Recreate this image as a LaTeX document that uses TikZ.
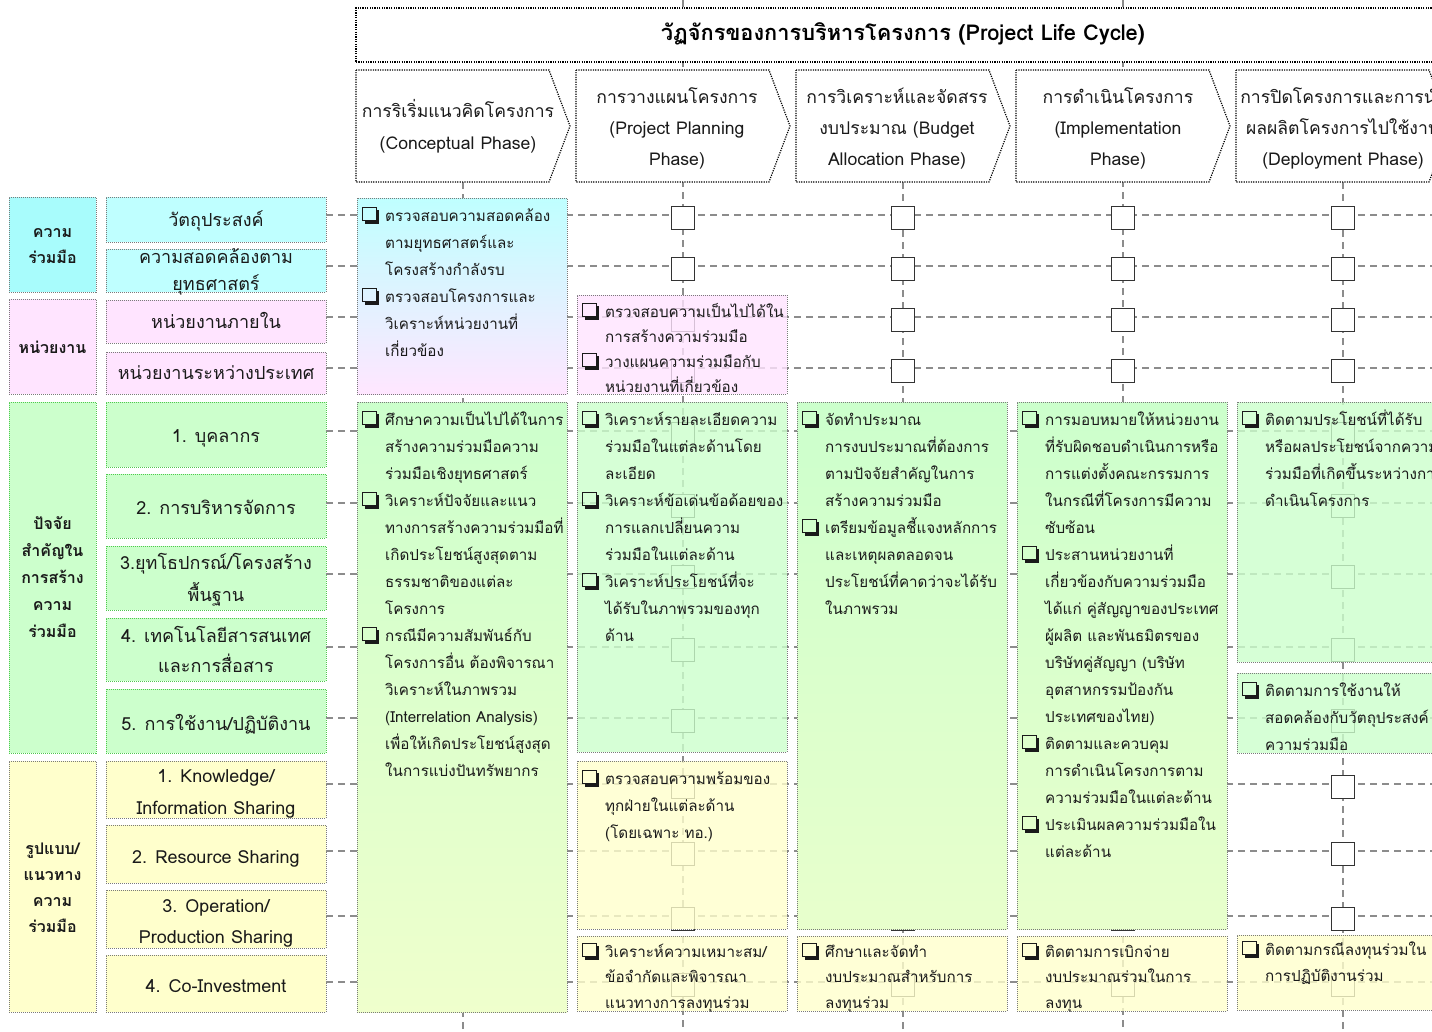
\documentclass[tikz,border=0pt]{standalone}
\usepackage{fontspec}
\setmainfont[Script=Thai]{Loma}
\usetikzlibrary{calc}

\definecolor{cyanA}{HTML}{BFFFFF}
\definecolor{cyanG}{HTML}{A8FCFC}
\definecolor{pinkA}{HTML}{FFE4FF}
\definecolor{pinkB}{HTML}{FFE6FF}
\definecolor{greenA}{HTML}{CCFFCC}
\definecolor{greenB}{HTML}{E8FFCC}
\definecolor{yellowA}{HTML}{FFFFCC}
\definecolor{gridgray}{HTML}{8C8C8C}
\definecolor{boxedge}{HTML}{7A7A7A}
\definecolor{greenedge}{HTML}{4FC84F}
\definecolor{inkc}{HTML}{1A1A1A}

% shadowed check-box bullet built from rules, then the hanging indent
\newcommand\cb{\makebox[23pt][l]{\setlength{\unitlength}{1pt}%
  \begin{picture}(18,14)(0,0)
    \put(2.8,-2.8){\rule{14pt}{2.8pt}}
    \put(14,-2.8){\rule{2.8pt}{14pt}}
    \put(0,0){\rule{14.5pt}{1.1pt}}
    \put(0,13.4){\rule{14.5pt}{1.1pt}}
    \put(0,0){\rule{1.1pt}{14.5pt}}
    \put(13.4,0){\rule{1.1pt}{14.5pt}}
  \end{picture}}}
\newcommand\ind{\hspace*{23pt}}
% list text: #1 = line spacing, #2 = lines
\newcommand\listtext[2]{\parbox[t]{330pt}{\fontsize{15.2}{#1}\selectfont #2}}
% centred text: #1 size, #2 line spacing, #3 lines
\newcommand\ctext[3]{\parbox[t]{300pt}{\centering\fontsize{#1}{#2}\selectfont #3}}
% rectangle node from corners: style, name, x1, y1, x2, y2
\newcommand\areabox[6]{%
  \node[#1, minimum width={#5-#3}, minimum height={#6-#4}] (#2) at ({(#3+#5)/2},{(#4+#6)/2}) {};}

\begin{document}
\begin{tikzpicture}[x=1pt,y=-1pt,
  gridline/.style={draw=gridgray, line width=1.4pt, dash pattern=on 7pt off 5pt},
  sq/.style={draw=black!80, fill=white, line width=1pt, minimum size=23pt, inner sep=0pt},
  phasebox/.style={draw=black, line width=1.2pt, dash pattern=on 1.2pt off 1.2pt, fill=white},
  cbox/.style={draw=boxedge, line width=0.8pt, dash pattern=on 1pt off 1pt, inner sep=0pt},
  semi/.style={cbox, fill opacity=0.8},
  gbox/.style={cbox, draw=greenedge},
  txt/.style={anchor=base west, inner sep=0pt, text=inkc},
  ctxt/.style={anchor=base, inner sep=0pt, text=inkc},
]
\path[use as bounding box] (0,0) rectangle (1432,1031);
\fill[white] (0,0) rectangle (1432,1031);
\clip (0,0) rectangle (1432,1031);

% ---------- left labels ----------
% group boxes
\areabox{cbox, fill=cyanG}{g1}{9}{197}{96}{292}
\areabox{cbox, fill=pinkA}{g2}{9}{299}{96}{394}
\areabox{gbox, fill=greenA}{g3}{9}{402}{96}{753}
\areabox{cbox, fill=yellowA}{g4}{9}{761}{96}{1012}
% item boxes
\areabox{cbox, fill=cyanA}{lab1}{106}{197}{326}{242}
\areabox{cbox, fill=cyanA}{lab2}{106}{249}{326}{292}
\areabox{cbox, fill=pinkA}{lab3}{106}{300}{326}{343}
\areabox{cbox, fill=pinkA}{lab4}{106}{352}{326}{394}
\areabox{gbox, fill=greenA}{lab5}{106}{402}{326}{467}
\areabox{gbox, fill=greenA}{lab6}{106}{474}{326}{538}
\areabox{gbox, fill=greenA}{lab7}{106}{546}{326}{610}
\areabox{gbox, fill=greenA}{lab8}{106}{618}{326}{681}
\areabox{gbox, fill=greenA}{lab9}{106}{689}{326}{753}
\areabox{cbox, fill=yellowA}{lab10}{106}{761}{326}{818}
\areabox{cbox, fill=yellowA}{lab11}{106}{825}{326}{883}
\areabox{cbox, fill=yellowA}{lab12}{106}{890}{326}{948}
\areabox{cbox, fill=yellowA}{lab13}{106}{955}{326}{1012}

% ---------- grid of dashed lines ----------
\foreach \y [count=\i] in {215,266,317,368,431,503,574,647,718,784,851,916,982}
  \coordinate (re\i) at (1432,\y);
\foreach \i in {1,...,13}
  \draw[gridline] (lab\i.east |- re\i) -- (re\i);
\foreach \x/\t [count=\j] in {463/182,683/0,903/182,1123/0,1343/182} {
  \coordinate (ct\j) at (\x,\t);
  \coordinate (cb\j) at (\x,1031);
}
\foreach \j in {1,...,5}
  \draw[gridline] (ct\j) -- (cb\j);
\foreach \x [count=\j from 2] in {683,903,1123,1343}
  \foreach \y [count=\i] in {215,266,317,368,431,503,574,647,718,784,851,916,982}
    \node[sq] (s\j-\i) at (\x,\y+2.5) {};

% ---------- life cycle header ----------
\node[phasebox, minimum width=1094pt, minimum height=54pt, text height=15pt, text depth=5pt]
  (title) at (903,35) {\fontsize{21.8}{22}\selectfont\bfseries วัฏจักรของการบริหารโครงการ (Project Life Cycle)};

\draw[phasebox] (356,70) -- (549,70) -- (570,126) -- (549,182) -- (356,182) -- cycle;
\draw[phasebox] (576,70) -- (769,70) -- (790,126) -- (769,182) -- (576,182) -- cycle;
\draw[phasebox] (796,70) -- (989,70) -- (1010,126) -- (989,182) -- (796,182) -- cycle;
\draw[phasebox] (1016,70) -- (1209,70) -- (1230,126) -- (1209,182) -- (1016,182) -- cycle;
\draw[phasebox] (1236,70) -- (1429,70) -- (1450,126) -- (1429,182) -- (1236,182) -- cycle;

\node[ctxt] (ph1) at (458,117) {\ctext{17.6}{32}{การริเริ่มแนวคิดโครงการ\\(Conceptual Phase)}};
\node[ctxt] (ph2) at (677,103) {\ctext{17.6}{31}{การวางแผนโครงการ\\(Project Planning\\Phase)}};
\node[ctxt] (ph3) at (897,103) {\ctext{17.6}{31}{การวิเคราะห์และจัดสรร\\งบประมาณ (Budget\\Allocation Phase)}};
\node[ctxt] (ph4) at (1118,103) {\ctext{17.6}{31}{การดำเนินโครงการ\\(Implementation\\Phase)}};
\node[ctxt] (ph5) at (1343,103) {\ctext{17.6}{31}{การปิดโครงการและการนำ\\ผลผลิตโครงการไปใช้งาน\\(Deployment Phase)}};

% ---------- label texts ----------
\node[ctxt] (gt1) at (52.5,237) {\ctext{16}{26}{\bfseries ความ\\ร่วมมือ}};
\node[ctxt] (gt2) at (52.5,353) {\ctext{16}{26}{\bfseries หน่วยงาน}};
\node[ctxt] (gt3) at (52.5,529) {\ctext{16}{27}{\bfseries ปัจจัย\\สำคัญใน\\การสร้าง\\ความ\\ร่วมมือ}};
\node[ctxt] (gt4) at (52.5,854) {\ctext{16}{26.3}{\bfseries รูปแบบ/\\แนวทาง\\ความ\\ร่วมมือ}};

\node[ctxt] (lt1) at (216,226) {\ctext{18}{27}{วัตถุประสงค์}};
\node[ctxt] (lt2) at (216,263) {\ctext{18}{27}{ความสอดคล้องตาม\\ยุทธศาสตร์}};
\node[ctxt] (lt3) at (216,328) {\ctext{18}{31}{หน่วยงานภายใน}};
\node[ctxt] (lt4) at (216,379) {\ctext{18}{31}{หน่วยงานระหว่างประเทศ}};
\node[ctxt] (lt5) at (216,442) {\ctext{18}{31}{1. บุคลากร}};
\node[ctxt] (lt6) at (216,514) {\ctext{18}{31}{2. การบริหารจัดการ}};
\node[ctxt] (lt7) at (216,569) {\ctext{18}{32}{3.ยุทโธปกรณ์/โครงสร้าง\\พื้นฐาน}};
\node[ctxt] (lt8) at (216,642) {\ctext{18}{30}{4. เทคโนโลยีสารสนเทศ\\และการสื่อสาร}};
\node[ctxt] (lt9) at (216,730) {\ctext{18}{31}{5. การใช้งาน/ปฏิบัติงาน}};
\node[ctxt] (lt10) at (216,782) {\ctext{18}{32}{1. Knowledge/\\Information Sharing}};
\node[ctxt] (lt11) at (216,863) {\ctext{18}{31}{2. Resource Sharing}};
\node[ctxt] (lt12) at (216,912) {\ctext{18}{31}{3. Operation/\\Production Sharing}};
\node[ctxt] (lt13) at (216,992) {\ctext{18}{31}{4. Co-Investment}};

% ---------- phase activity boxes ----------
\areabox{cbox, top color=cyanA, bottom color=pinkB}{a1}{357}{198}{567}{394}
\areabox{cbox, top color=greenA, bottom color=greenB!70!yellowA}{b1}{357}{402}{567}{1012}
\areabox{semi, fill=pinkA}{a2}{577}{295}{787}{394}
\areabox{semi, fill=greenA}{b2}{577}{402}{787}{752}
\areabox{semi, fill=yellowA}{c2}{577}{761}{787}{929}
\areabox{semi, fill=yellowA}{d2}{577}{936}{787}{1011}
\areabox{cbox, top color=greenA, bottom color=greenB}{b3}{797}{402}{1007}{929}
\areabox{semi, fill=yellowA}{d3}{797}{936}{1007}{1011}
\areabox{cbox, top color=greenA, bottom color=greenB}{b4}{1017}{402}{1227}{929}
\areabox{semi, fill=yellowA}{d4}{1017}{936}{1227}{1011}
\areabox{semi, fill=greenA}{b5}{1237}{402}{1447}{662}
\areabox{semi, fill=greenA}{c5}{1237}{673}{1447}{753}
\areabox{semi, fill=yellowA}{d5}{1237}{935}{1447}{1010}

% ---------- activity texts ----------
\node[txt] (ta1) at (362,221) {\listtext{27}{\cb ตรวจสอบความสอดคล้อง\\\ind ตามยุทธศาสตร์และ\\\ind โครงสร้างกำลังรบ\\\cb ตรวจสอบโครงการและ\\\ind วิเคราะห์หน่วยงานที่\\\ind เกี่ยวข้อง}};
\node[txt] (tb1) at (362,425) {\listtext{27}{\cb ศึกษาความเป็นไปได้ในการ\\\ind สร้างความร่วมมือความ\\\ind ร่วมมือเชิงยุทธศาสตร์\\\cb วิเคราะห์ปัจจัยและแนว\\\ind ทางการสร้างความร่วมมือที่\\\ind เกิดประโยชน์สูงสุดตาม\\\ind ธรรมชาติของแต่ละ\\\ind โครงการ\\\cb กรณีมีความสัมพันธ์กับ\\\ind โครงการอื่น ต้องพิจารณา\\\ind วิเคราะห์ในภาพรวม\\\ind (Interrelation Analysis)\\\ind เพื่อให้เกิดประโยชน์สูงสุด\\\ind ในการแบ่งปันทรัพยากร}};

\node[txt] (ta2) at (582,317) {\listtext{25}{\cb ตรวจสอบความเป็นไปได้ใน\\\ind การสร้างความร่วมมือ\\\cb วางแผนความร่วมมือกับ\\\ind หน่วยงานที่เกี่ยวข้อง}};
\node[txt] (tb2) at (582,425) {\listtext{27}{\cb วิเคราะห์รายละเอียดความ\\\ind ร่วมมือในแต่ละด้านโดย\\\ind ละเอียด\\\cb วิเคราะห์ข้อเด่นข้อด้อยของ\\\ind การแลกเปลี่ยนความ\\\ind ร่วมมือในแต่ละด้าน\\\cb วิเคราะห์ประโยชน์ที่จะ\\\ind ได้รับในภาพรวมของทุก\\\ind ด้าน}};
\node[txt] (tc2) at (582,784) {\listtext{27}{\cb ตรวจสอบความพร้อมของ\\\ind ทุกฝ่ายในแต่ละด้าน\\\ind (โดยเฉพาะ ทอ.)}};
\node[txt] (td2) at (582,957) {\listtext{25.5}{\cb วิเคราะห์ความเหมาะสม/\\\ind ข้อจำกัดและพิจารณา\\\ind แนวทางการลงทุนร่วม}};

\node[txt] (tb3) at (802,425) {\listtext{27}{\cb จัดทำประมาณ\\\ind การงบประมาณที่ต้องการ\\\ind ตามปัจจัยสำคัญในการ\\\ind สร้างความร่วมมือ\\\cb เตรียมข้อมูลชี้แจงหลักการ\\\ind และเหตุผลตลอดจน\\\ind ประโยชน์ที่คาดว่าจะได้รับ\\\ind ในภาพรวม}};
\node[txt] (td3) at (802,957) {\listtext{25.5}{\cb ศึกษาและจัดทำ\\\ind งบประมาณสำหรับการ\\\ind ลงทุนร่วม}};

\node[txt] (tb4) at (1022,425) {\listtext{27}{\cb การมอบหมายให้หน่วยงาน\\\ind ที่รับผิดชอบดำเนินการหรือ\\\ind การแต่งตั้งคณะกรรมการ\\\ind ในกรณีที่โครงการมีความ\\\ind ซับซ้อน\\\cb ประสานหน่วยงานที่\\\ind เกี่ยวข้องกับความร่วมมือ\\\ind ได้แก่ คู่สัญญาของประเทศ\\\ind ผู้ผลิต และพันธมิตรของ\\\ind บริษัทคู่สัญญา (บริษัท\\\ind อุตสาหกรรมป้องกัน\\\ind ประเทศของไทย)\\\cb ติดตามและควบคุม\\\ind การดำเนินโครงการตาม\\\ind ความร่วมมือในแต่ละด้าน\\\cb ประเมินผลความร่วมมือใน\\\ind แต่ละด้าน}};
\node[txt] (td4) at (1022,957) {\listtext{25.5}{\cb ติดตามการเบิกจ่าย\\\ind งบประมาณร่วมในการ\\\ind ลงทุน}};

\node[txt] (tb5) at (1242,425) {\listtext{27}{\cb ติดตามประโยชน์ที่ได้รับ\\\ind หรือผลประโยชน์จากความ\\\ind ร่วมมือที่เกิดขึ้นระหว่างการ\\\ind ดำเนินโครงการ}};
\node[txt] (tc5) at (1242,696) {\listtext{27}{\cb ติดตามการใช้งานให้\\\ind สอดคล้องกับวัตถุประสงค์\\\ind ความร่วมมือ}};
\node[txt] (td5) at (1242,955) {\listtext{26}{\cb ติดตามกรณีลงทุนร่วมใน\\\ind การปฏิบัติงานร่วม}};
\end{tikzpicture}
\end{document}
